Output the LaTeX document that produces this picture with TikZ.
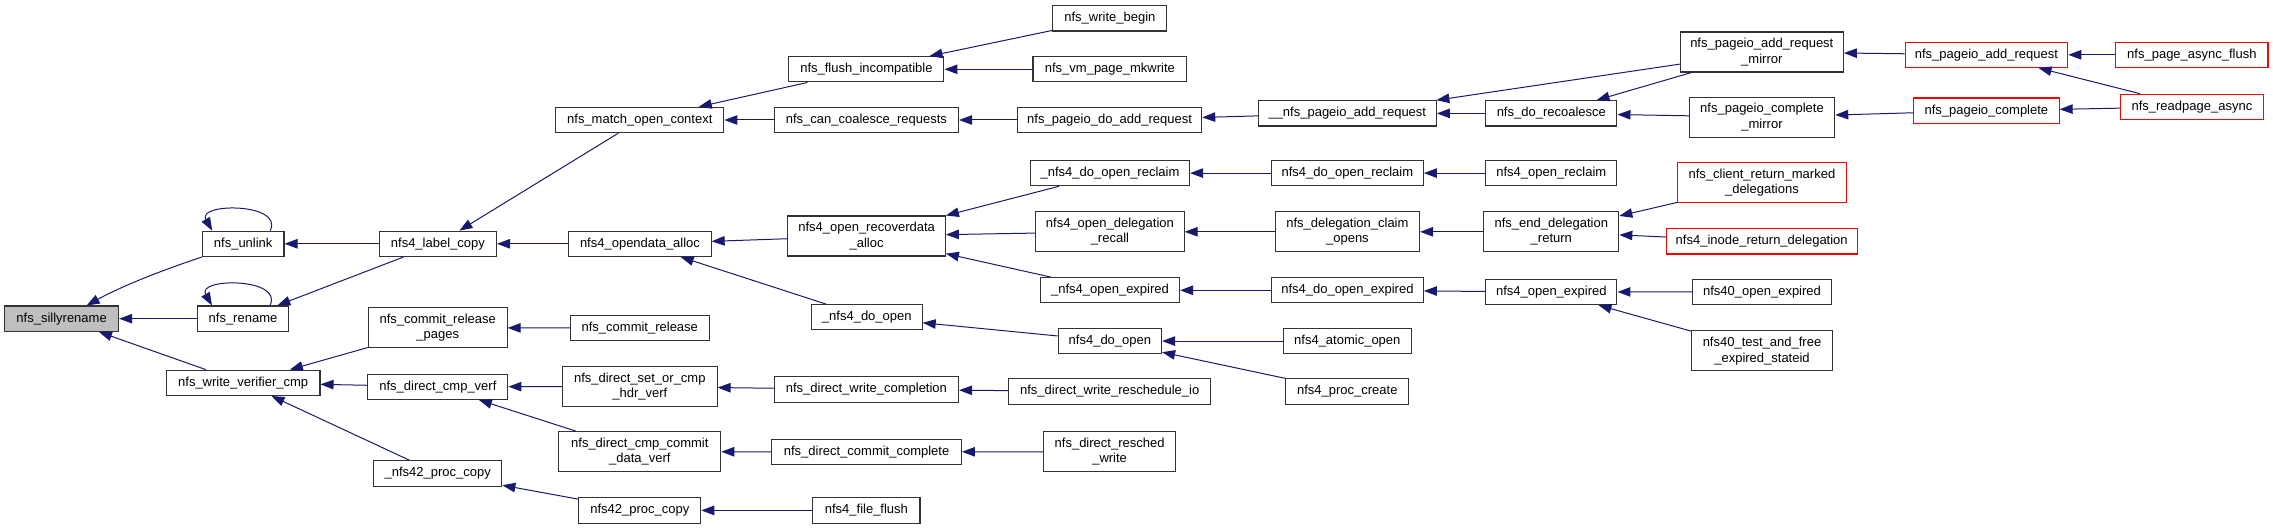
\documentclass[tikz,border=0pt]{standalone}
\usepackage{fontspec}
\setmainfont{Liberation Sans}
\usetikzlibrary{arrows.meta}
\definecolor{edgeblue}{RGB}{25,25,112}
\definecolor{boxgray}{RGB}{191,191,191}
\tikzset{
  fn/.style={draw=black!80, line width=1.1pt, fill=white, inner sep=0pt,
    minimum height=25.3pt, align=center,
    font=\fontsize{13}{15.5}\selectfont},
  two/.style={minimum height=40pt},
  redbox/.style={draw=red},
  cur/.style={fill=boxgray},
  edge/.style={draw=edgeblue, line width=1pt, -{Triangle[length=13pt,width=9.5pt]}}
}
\newcommand{\fnode}[5][]{\node[fn,#1,minimum width=#4pt] (#2) at (#3) {#5};}
\begin{document}
\begin{tikzpicture}[x=1pt,y=-1pt]
\useasboundingbox (0,0) rectangle (2273,529);
% column 0
\fnode[cur]{sr}{61.6,318.7}{114}{nfs\_sillyrename}
% column 1
\fnode{unlink}{243.2,243.8}{81.5}{nfs\_unlink}
\fnode{rename}{243,318.7}{90.3}{nfs\_rename}
\fnode{wvc}{243.2,382.8}{153.6}{nfs\_write\_verifier\_cmp}
% column 2
\fnode{lc}{437.9,243.8}{117.1}{nfs4\_label\_copy}
\fnode[two]{crp}{437.7,327.8}{138.9}{nfs\_commit\_release\\\_pages}
\fnode{dcv}{437.9,386.7}{140}{nfs\_direct\_cmp\_verf}
\fnode{p42}{437.7,473.4}{128.2}{\_nfs42\_proc\_copy}
% column 3
\fnode{moc}{639.8,120}{168.2}{nfs\_match\_open\_context}
\fnode{oda}{640,243.8}{142.2}{nfs4\_opendata\_alloc}
\fnode{cr}{639.8,328.1}{138.9}{nfs\_commit\_release}
\fnode[two]{hv}{639.8,386.6}{154.6}{nfs\_direct\_set\_or\_cmp\\\_hdr\_verf}
\fnode[two]{cdv}{639.8,451.7}{161.8}{nfs\_direct\_cmp\_commit\\\_data\_verf}
\fnode{pc42}{639.8,510.4}{121.8}{nfs42\_proc\_copy}
% column 4
\fnode{fi}{866.4,69.3}{155}{nfs\_flush\_incompatible}
\fnode{ccr}{866.4,120}{184.3}{nfs\_can\_coalesce\_requests}
\fnode[two]{ora}{866.6,236}{157.5}{nfs4\_open\_recoverdata\\\_alloc}
\fnode{ndo}{866.8,317.3}{110.7}{\_nfs4\_do\_open}
\fnode{dwc}{866.4,389.4}{184.3}{nfs\_direct\_write\_completion}
\fnode{dcc}{866.6,451.9}{189.6}{nfs\_direct\_commit\_complete}
\fnode{ff}{866.4,510.4}{107.1}{nfs4\_file\_flush}
% column 5
\fnode{wb}{1109.9,18.4}{114}{nfs\_write\_begin}
\fnode{vm}{1109.9,69.3}{153.9}{nfs\_vm\_page\_mkwrite}
\fnode{pdar}{1109.6,120}{184.2}{nfs\_pageio\_do\_add\_request}
\fnode{dor}{1110,173.1}{159.1}{\_nfs4\_do\_open\_reclaim}
\fnode[two]{odr}{1109.9,231.8}{148.4}{nfs4\_open\_delegation\\\_recall}
\fnode{oe}{1110,290.3}{139.1}{\_nfs4\_open\_expired}
\fnode{do}{1109.9,341.1}{103.3}{nfs4\_do\_open}
\fnode{wri}{1109.7,391.5}{201.6}{nfs\_direct\_write\_reschedule\_io}
\fnode[two]{rw}{1109.6,451.7}{132.1}{nfs\_direct\_resched\\\_write}
% column 6
\fnode{upar}{1347.3,113.4}{178}{\_\_nfs\_pageio\_add\_request}
\fnode{dorc}{1347.4,173.1}{151.9}{nfs4\_do\_open\_reclaim}
\fnode[two]{dco}{1347.4,231.8}{144.3}{nfs\_delegation\_claim\\\_opens}
\fnode{doe}{1347.4,290.3}{151.9}{nfs4\_do\_open\_expired}
\fnode{ao}{1347.3,341.1}{128.2}{nfs4\_atomic\_open}
\fnode{pcr}{1347.3,391.5}{122.8}{nfs4\_proc\_create}
% column 7
\fnode{rec}{1551.3,113.4}{131.2}{nfs\_do\_recoalesce}
\fnode{orc}{1551.3,173.1}{131.2}{nfs4\_open\_reclaim}
\fnode[two]{edr}{1551.3,231.8}{135}{nfs\_end\_delegation\\\_return}
\fnode{noe}{1551.3,292}{131.2}{nfs4\_open\_expired}
% column 8
\fnode[two]{arm}{1761.8,52}{163}{nfs\_pageio\_add\_request\\\_mirror}
\fnode[two]{cm}{1762,117.1}{145.4}{nfs\_pageio\_complete\\\_mirror}
\fnode[two,redbox]{crmd}{1761.9,182.7}{168.5}{nfs\_client\_return\_marked\\\_delegations}
\fnode[redbox]{ird}{1761.7,241.4}{190.7}{nfs4\_inode\_return\_delegation}
\fnode{n40}{1762,291.8}{139.2}{nfs40\_open\_expired}
\fnode[two]{tfe}{1762,350.9}{140.7}{nfs40\_test\_and\_free\\\_expired\_stateid}
% column 9
\fnode[redbox]{par}{1986.4,54.8}{162.6}{nfs\_pageio\_add\_request}
\fnode[redbox]{pcomp}{1986.4,110.7}{145.4}{nfs\_pageio\_complete}
% column 10
\fnode[redbox]{paf}{2191.9,54.8}{152.1}{nfs\_page\_async\_flush}
\fnode[redbox]{ra}{2191.9,106.8}{142.7}{nfs\_readpage\_async}
% edges
\draw[edge] (unlink.south west) .. controls +(-30,10) and +(40,-22) .. ([xshift=25pt]sr.north);
\draw[edge] (rename) -- (sr);
\draw[edge] (wvc) -- (sr);
\draw[edge] ([xshift=27pt]unlink.north) .. controls +(14,-28) and +(-16,-28) .. ([xshift=-31pt]unlink.north);
\draw[edge] ([xshift=27pt]rename.north) .. controls +(14,-28) and +(-16,-28) .. ([xshift=-31pt]rename.north);
\draw[edge] (lc) -- (unlink);
\draw[edge] (lc) -- (rename);
\draw[edge] (moc) -- (lc);
\draw[edge] (oda) -- (lc);
\draw[edge] (crp) -- (wvc);
\draw[edge] (dcv) -- (wvc);
\draw[edge] (p42) -- (wvc);
\draw[edge] (cr) -- (crp);
\draw[edge] (hv) -- (dcv);
\draw[edge] (cdv) -- (dcv);
\draw[edge] (pc42) -- (p42);
\draw[edge] (fi) -- (moc);
\draw[edge] (ccr) -- (moc);
\draw[edge] (ora) -- (oda);
\draw[edge] (ndo) -- (oda);
\draw[edge] (dwc) -- (hv);
\draw[edge] (dcc) -- (cdv);
\draw[edge] (ff) -- (pc42);
\draw[edge] (wb) -- (fi);
\draw[edge] (vm) -- (fi);
\draw[edge] (pdar) -- (ccr);
\draw[edge] (dor) -- (ora);
\draw[edge] (odr) -- (ora);
\draw[edge] (oe) -- (ora);
\draw[edge] (do) -- (ndo);
\draw[edge] (wri) -- (dwc);
\draw[edge] (rw) -- (dcc);
\draw[edge] (upar) -- (pdar);
\draw[edge] (dorc) -- (dor);
\draw[edge] (dco) -- (odr);
\draw[edge] (doe) -- (oe);
\draw[edge] (ao) -- (do);
\draw[edge] (pcr) -- (do);
\draw[edge] (rec) -- (upar);
\draw[edge] (arm) -- (upar);
\draw[edge] (orc) -- (dorc);
\draw[edge] (edr) -- (dco);
\draw[edge] (noe) -- (doe);
\draw[edge] (arm) -- (rec);
\draw[edge] (cm) -- (rec);
\draw[edge] (crmd) -- (edr);
\draw[edge] (ird) -- (edr);
\draw[edge] (n40) -- (noe);
\draw[edge] (tfe) -- (noe);
\draw[edge] (par) -- (arm);
\draw[edge] (pcomp) -- (cm);
\draw[edge] (paf) -- (par);
\draw[edge] (ra) -- (par);
\draw[edge] (ra) -- (pcomp);
\end{tikzpicture}
\end{document}
